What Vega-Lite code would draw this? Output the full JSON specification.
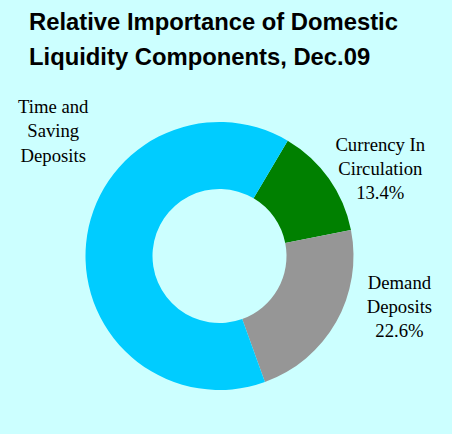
{
  "$schema": "https://vega.github.io/schema/vega-lite/v6.json",
  "width": 439,
  "height": 356,
  "autosize": {"type": "none"},
  "padding": {"left": 0, "right": 13, "top": 78, "bottom": 0},
  "background": "#CCFFFF",
  "title": {
    "text": ["Relative Importance of Domestic", "Liquidity Components, Dec.09"],
    "anchor": "start",
    "frame": "group",
    "dx": 29,
    "dy": 61,
    "font": "Liberation Sans",
    "fontSize": 23.8,
    "fontWeight": "bold",
    "lineHeight": 35,
    "offset": 7,
    "color": "#000000"
  },
  "config": {"view": {"stroke": null}},
  "data": {
    "values": [
      {"cat": "Currency In Circulation", "value": 13.4, "label": ["Currency In", "Circulation", "13.4%"]},
      {"cat": "Demand Deposits", "value": 22.6, "label": ["Demand", "Deposits", "22.6%"]},
      {"cat": "Time and Saving Deposits", "value": 64.0, "label": ["Time and", "Saving", "Deposits"]}
    ]
  },
  "encoding": {
    "theta": {"field": "value", "type": "quantitative", "stack": true, "scale": {"range": [0.534, 6.817]}},
    "order": {"field": "cat", "type": "ordinal"}
  },
  "layer": [
    {
      "mark": {"type": "arc", "radius": 134, "radius2": 67, "strokeWidth": 0},
      "encoding": {
        "color": {
          "field": "cat",
          "type": "nominal",
          "scale": {
            "domain": ["Currency In Circulation", "Demand Deposits", "Time and Saving Deposits"],
            "range": ["#008000", "#969696", "#00CCFF"]
          },
          "legend": null
        }
      }
    },
    {
      "mark": {"type": "text", "radius": 170, "dx": 22, "dy": -13, "font": "Liberation Serif", "fontSize": 18.7, "lineHeight": 24.3, "align": "center", "baseline": "middle", "color": "#000000"},
      "encoding": {
        "text": {"field": "label", "type": "nominal", "condition": {"test": "datum.cat !== 'Currency In Circulation'", "value": ""}}
      }
    },
    {
      "mark": {"type": "text", "radius": 170, "dx": 32, "dy": -57, "font": "Liberation Serif", "fontSize": 18.7, "lineHeight": 24.3, "align": "center", "baseline": "middle", "color": "#000000"},
      "encoding": {
        "text": {"field": "label", "type": "nominal", "condition": {"test": "datum.cat !== 'Demand Deposits'", "value": ""}}
      }
    },
    {
      "mark": {"type": "text", "radius": 170, "dx": 3, "dy": -133, "font": "Liberation Serif", "fontSize": 18.7, "lineHeight": 24.3, "align": "center", "baseline": "middle", "color": "#000000"},
      "encoding": {
        "text": {"field": "label", "type": "nominal", "condition": {"test": "datum.cat !== 'Time and Saving Deposits'", "value": ""}}
      }
    }
  ]
}
